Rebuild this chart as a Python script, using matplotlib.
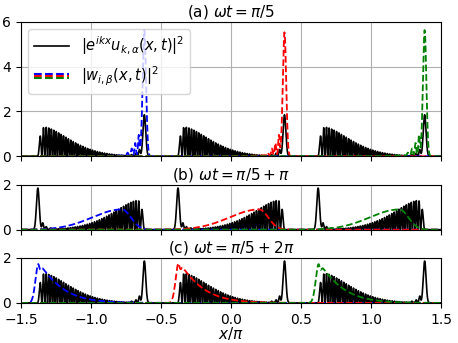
import numpy as np
import matplotlib
matplotlib.use("Agg")
import matplotlib.pyplot as plt
from matplotlib.legend_handler import HandlerBase
from matplotlib.lines import Line2D

# values (positions in units of x/pi)
x_lim = [-1.5, 1.5]
cell_shift = [0.0, 1.0, 2.0]              # the three wells
well_colors = ["blue", "red", "green"]
titles = [r"(a) $\omega t=\pi/5$", r"(b) $\omega t=\pi/5+\pi$", r"(c) $\omega t=\pi/5+2\pi$"]
y_max = [6, 2, 2]
y_ticks = [[0, 2, 4, 6], [0, 2], [0, 2]]
x_ticks = [-1.5, -1.0, -0.5, 0.0, 0.5, 1.0, 1.5]

# black |e^{ikx}u|^2 at wt = pi/5 (panel c is the same, panel b is its mirror)
packet_start = -1.383
packet_top = 1.3
black_peak_pos = -0.62
black_peak_h = 1.85
black_bumps_pos = [-0.655, -0.68, -0.71]
black_bumps_h = [0.3, 0.12, 0.06]

# Wannier |w|^2, panel (a): sharp peak
wa_pos = [-0.62, 0.38, 1.38]
wa_h = [5.6, 5.5, 5.6]
wa_bumps_pos = [-0.66, -0.685, -0.71, -0.74]
wa_bumps_h = [0.9, 0.55, 0.3, 0.12]
# panel (b): broad hump
wb_pos = [-0.78, 0.2, 1.2]
wb_h = [0.9, 0.9, 0.9]
# panel (c): steep edge then decay
wc_pos = [-1.375, -0.375, 0.625]
wc_h = [1.75, 1.78, 1.75]

x = np.linspace(x_lim[0], x_lim[1], 12001)


def gauss(x, c, s):
    return np.exp(-((x - c) / s) ** 2)


def black_a(x):
    y = np.zeros_like(x)
    for s in cell_shift:
        u = x - packet_start - s
        d = np.abs(u - 0.05)
        env = np.where(u < 0.05, gauss(u, 0.05, 0.05),
                       np.exp(-(d / 0.26) ** 1.6)) * packet_top
        env *= (u > 0) * (u < 0.75)
        n = 58 * u - 1.3 * (1 - np.exp(-u / 0.03))
        y += env * np.sin(np.pi * n) ** 2
        y += black_peak_h * gauss(x, black_peak_pos + s, 0.014)
        for p, h in zip(black_bumps_pos, black_bumps_h):
            y += h * gauss(x, p + s, 0.007)
    return y


def wannier_a(x, i):
    c = wa_pos[i]
    y = wa_h[i] * gauss(x, c, 0.017)
    for p, h in zip(wa_bumps_pos, wa_bumps_h):
        y += h * gauss(x, p + cell_shift[i], 0.007)
    y += 0.05 * np.exp(-np.abs(x - c + 0.1) / 0.15) * (x < c)
    return y


def wannier_b(x, i):
    c = wb_pos[i]
    w = np.where(x < c, 0.3, 0.09)
    return wb_h[i] * gauss(x, c, w)


def wannier_c(x, i):
    c = wc_pos[i]
    y = np.where(x < c, gauss(x, c, 0.03), np.exp(-((x - c) / 0.17) ** 1.15))
    y *= 1 - 0.12 * gauss(x, c + 0.012, 0.01)
    return wc_h[i] * y


class StackHandler(HandlerBase):
    def create_artists(self, legend, orig_handle, xd, yd, width, height, fontsize, trans):
        arts = []
        for k, c in enumerate(orig_handle):
            yy = height / 2 - yd + (1 - k) * 0.2 * height
            ln = Line2D([-xd, width - xd], [yy, yy], color=c, ls="--", lw=1.5,
                        transform=trans)
            arts.append(ln)
        return arts


fig = plt.figure(figsize=(4.58, 3.43), dpi=100)
boxes = [[0.0459, 0.5444, 0.918, 0.3925],
         [0.0459, 0.3304, 0.918, 0.1312],
         [0.0459, 0.1168, 0.918, 0.1321]]
axes = [fig.add_axes(b) for b in boxes]

curves_black = [black_a(x), black_a(-x), black_a(x)]
wannier_funcs = [wannier_a, wannier_b, wannier_c]

for k, ax in enumerate(axes):
    ax.plot(x, curves_black[k], color="black", lw=1.2)
    for i, col in enumerate(well_colors):
        ax.plot(x, wannier_funcs[k](x, i), color=col, ls="--", lw=1.3)
    ax.set_xlim(x_lim)
    ax.set_ylim(0, y_max[k])
    ax.set_yticks(y_ticks[k])
    ax.set_xticks(x_ticks)
    ax.grid(True, color="#b0b0b0", lw=0.8)
    ax.set_axisbelow(True)
    ax.tick_params(labelsize=10)
    ax.set_title(titles[k], fontsize=11, pad=4)
    if k < 2:
        ax.tick_params(labelbottom=False)

axes[2].set_xlabel(r"$x/\pi$", fontsize=11, labelpad=-1)

h1 = Line2D([], [], color="black", lw=1.2)
axes[0].legend([h1, tuple(well_colors)],
               [r"$|e^{ikx}u_{k,\alpha}(x,t)|^2$", r"$|w_{i,\beta}(x,t)|^2$"],
               handler_map={tuple: StackHandler()}, loc="upper left",
               fontsize=10.5, handlelength=2.4)

fig.savefig("out.png", dpi=100)
